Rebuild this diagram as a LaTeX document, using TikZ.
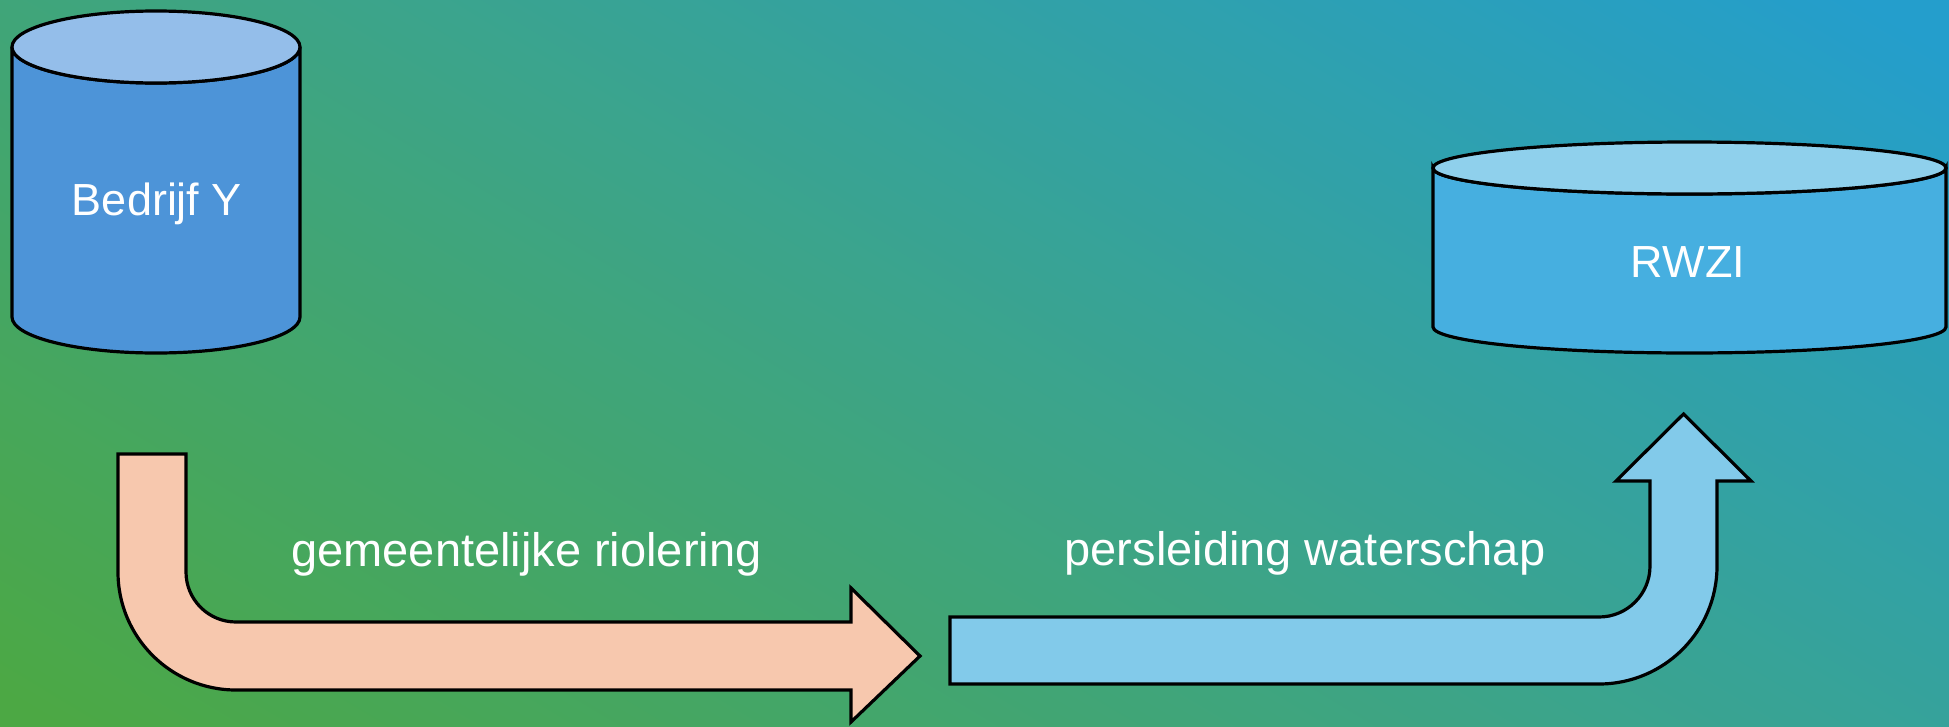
\documentclass[tikz,border=0pt]{standalone}
\usepackage{fontspec}
\setmainfont{Liberation Sans}
\definecolor{bgG}{RGB}{76,168,68}
\definecolor{bgM}{RGB}{60,164,138}
\definecolor{bgB}{RGB}{36,158,204}
\definecolor{cylAbody}{RGB}{77,148,216}
\definecolor{cylAtop}{RGB}{148,190,234}
\definecolor{cylBbody}{RGB}{70,175,224}
\definecolor{cylBtop}{RGB}{143,208,236}
\definecolor{pinkarrow}{RGB}{247,200,174}
\definecolor{bluearrow}{RGB}{130,202,234}
\pgfdeclareverticalshading{bgshade}{100bp}{color(0bp)=(bgG); color(33.8bp)=(bgG); color(50bp)=(bgM); color(66.2bp)=(bgB); color(100bp)=(bgB)}
\tikzset{
  outl/.style={draw=black, line width=3.2pt, line join=miter},
  lbl/.style={text=white, inner sep=0pt, anchor=base},
}
\begin{document}
\begin{tikzpicture}[x=1pt,y=-1pt]
\useasboundingbox (0,0) rectangle (1949,726);
\begin{scope}
\clip (0,0) rectangle (1949,726);
\shade[shading=bgshade, shading angle=-31] (-240,-837) rectangle (2160,1563);
\end{scope}
% cylinder Bedrijf Y
\filldraw[outl, fill=cylAbody] (12,47) -- (12,317) arc[start angle=180, end angle=0, x radius=144, y radius=36] -- (300,47) arc[start angle=0, end angle=180, x radius=144, y radius=36] -- cycle;
\filldraw[outl, fill=cylAtop] (156,47) ellipse[x radius=144, y radius=36];
\node[lbl, font=\fontsize{45}{45}\selectfont] (bedrijf) at (157,215) {Bedrijf Y};
% cylinder RWZI
\filldraw[outl, fill=cylBbody] (1433,168) -- (1433,327) arc[start angle=180, end angle=0, x radius=256.5, y radius=26] -- (1946,168) arc[start angle=0, end angle=180, x radius=256.5, y radius=26] -- cycle;
\filldraw[outl, fill=cylBtop] (1689.5,168) ellipse[x radius=256.5, y radius=26];
\node[lbl, font=\fontsize{45}{45}\selectfont] (rwzi) at (1688,277) {RWZI};
% pink bent arrow
\filldraw[outl, fill=pinkarrow] (118,454) -- (186,454) -- (186,572)
  arc[start angle=180, end angle=90, radius=50] -- (851,622) -- (851,588) -- (920,656) -- (851,722) -- (851,690) -- (236,690)
  arc[start angle=90, end angle=180, radius=118] -- cycle;
\node[lbl, font=\fontsize{47}{47}\selectfont] (riool) at (526.5,566) {gemeentelijke riolering};
% blue bent arrow
\filldraw[outl, fill=bluearrow] (950,617) -- (1599,617)
  arc[start angle=90, end angle=0, radius=51] -- (1650,481) -- (1616,481) -- (1683.5,414) -- (1751,481) -- (1717,481) -- (1717,566)
  arc[start angle=0, end angle=90, radius=118] -- (950,684) -- cycle;
\node[lbl, font=\fontsize{47}{47}\selectfont] (pers) at (1305,565) {persleiding waterschap};
\end{tikzpicture}
\end{document}
